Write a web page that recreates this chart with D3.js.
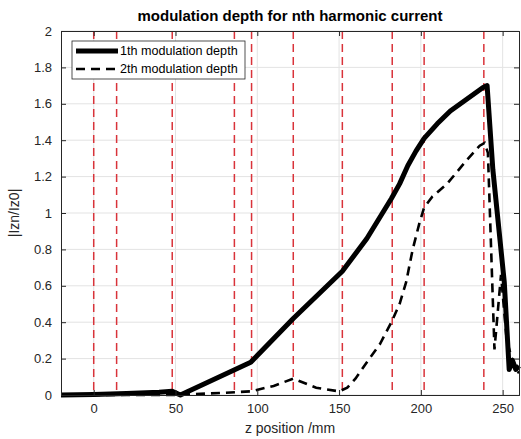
<!DOCTYPE html>
<html><head><meta charset="utf-8">
<script src="https://cdn.jsdelivr.net/npm/d3@7"></script>
<style>body{margin:0;background:#fff}svg{display:block}text{font-family:"Liberation Sans",Arial,sans-serif}</style>
</head><body>
<svg id="c" width="521" height="439"></svg>
<script>
const xTicks = [0, 50, 100, 150, 200, 250];
const yTicks = [0, 0.2, 0.4, 0.6, 0.8, 1, 1.2, 1.4, 1.6, 1.8, 2];
const markers = [0, 14, 48, 86, 96.5, 122, 152, 182.5, 202, 238.5];
const series1 = [[-20,0],[0,0.003],[20,0.008],[40,0.015],[48,0.02],[53,0],[96,0.18],[122,0.42],[152,0.68],[167,0.86],[182,1.08],[187,1.16],[192,1.26],[197,1.34],[202,1.41],[210,1.49],[218,1.56],[228,1.625],[238,1.69],[240.5,1.70],[244,1.24],[251,0.62],[254,0.14],[256,0.19],[258,0.14],[260,0.16]];
const series2 = [[-20,0],[50,0],[60,0.005],[80,0.012],[96,0.02],[110,0.05],[122,0.09],[136,0.04],[150,0.02],[155,0.04],[160,0.09],[167,0.18],[175,0.28],[182,0.40],[187,0.50],[191,0.62],[195,0.80],[199,0.94],[202,1.03],[207,1.09],[216,1.16],[228,1.29],[236,1.37],[239,1.385],[241,1.33],[245,0.25],[249,0.66],[252.5,0.3],[257,0.16],[260,0.12]];
const names = ["1th modulation depth", "2th modulation depth"];

const svg = d3.select("#c");
const L = 61, R = 519, T = 31, B = 395;
const x = d3.scaleLinear().domain([-20, 260]).range([L, R]);
const y = d3.scaleLinear().domain([0, 2]).range([B, T]);
const axisCol = "#262626";

// grid
svg.append("g").selectAll("line").data(xTicks).join("line")
  .attr("x1", d => x(d)).attr("x2", d => x(d)).attr("y1", T).attr("y2", B)
  .attr("stroke", "#e3e3e3").attr("stroke-width", 1);
svg.append("g").selectAll("line").data(yTicks).join("line")
  .attr("y1", d => y(d)).attr("y2", d => y(d)).attr("x1", L).attr("x2", R)
  .attr("stroke", "#e3e3e3").attr("stroke-width", 1);

// markers
svg.append("g").selectAll("line").data(markers).join("line")
  .attr("x1", d => x(d)).attr("x2", d => x(d)).attr("y1", T).attr("y2", B)
  .attr("stroke", "#d9333a").attr("stroke-width", 1.5).attr("stroke-dasharray", "8,5");

// clip
svg.append("clipPath").attr("id", "clip").append("rect")
  .attr("x", L).attr("y", T - 5).attr("width", R - L + 2).attr("height", B - T + 10);

const line = d3.line().x(d => x(d[0])).y(d => y(d[1])).curve(d3.curveLinear);
const g = svg.append("g").attr("clip-path", "url(#clip)");
g.append("path").datum(series2).attr("d", line).attr("fill", "none")
  .attr("stroke", "#000").attr("stroke-width", 2.6).attr("stroke-dasharray", "9,6");
g.append("path").datum(series1).attr("d", line).attr("fill", "none")
  .attr("stroke", "#000").attr("stroke-width", 5).attr("stroke-linejoin", "round");

// axes
const xa = svg.append("g").attr("transform", `translate(0,${B})`)
  .call(d3.axisBottom(x).tickValues(xTicks).tickSize(-5).tickPadding(9).tickFormat(d3.format("d")));
const xa2 = svg.append("g").attr("transform", `translate(0,${T})`)
  .call(d3.axisTop(x).tickValues(xTicks).tickSize(-5).tickFormat(""));
const ya = svg.append("g").attr("transform", `translate(${L},0)`)
  .call(d3.axisLeft(y).tickValues(yTicks).tickSize(-5).tickPadding(9).tickFormat(d => d3.format("~g")(d)));
const ya2 = svg.append("g").attr("transform", `translate(${R},0)`)
  .call(d3.axisRight(y).tickValues(yTicks).tickSize(-5).tickFormat(""));
[xa, xa2, ya, ya2].forEach(a => {
  a.selectAll("path,line").attr("stroke", axisCol);
  a.selectAll("text").attr("fill", axisCol).style("font-size", "13px").style("font-family", "Liberation Sans, Arial, sans-serif");
});

// title & labels
svg.append("text").attr("x", (L + R) / 2).attr("y", 21).attr("text-anchor", "middle")
  .style("font-size", "15px").style("font-weight", "bold").attr("fill", "#000")
  .text("modulation depth for nth harmonic current");
svg.append("text").attr("x", (L + R) / 2).attr("y", 433).attr("text-anchor", "middle")
  .style("font-size", "14px").attr("fill", axisCol).text("z position /mm");
svg.append("text").attr("transform", `translate(19,${(T + B) / 2}) rotate(-90)`).attr("text-anchor", "middle")
  .style("font-size", "14px").attr("fill", axisCol).text("|Izn/Iz0|");

// legend
const lg = svg.append("g");
lg.append("rect").attr("x", 72).attr("y", 41).attr("width", 173).attr("height", 38)
  .attr("fill", "#fff").attr("stroke", axisCol).attr("stroke-width", 0.8);
const items = [{w: 5, dash: null}, {w: 2.6, dash: "9,6"}];
items.forEach((it, i) => {
  const yy = 51 + i * 18;
  lg.append("line").attr("x1", 76).attr("x2", 118).attr("y1", yy).attr("y2", yy)
    .attr("stroke", "#000").attr("stroke-width", it.w).attr("stroke-dasharray", it.dash);
  lg.append("text").attr("x", 120).attr("y", yy + 4).style("font-size", "12.6px").attr("fill", "#000").text(names[i]);
});
</script>
</body></html>
